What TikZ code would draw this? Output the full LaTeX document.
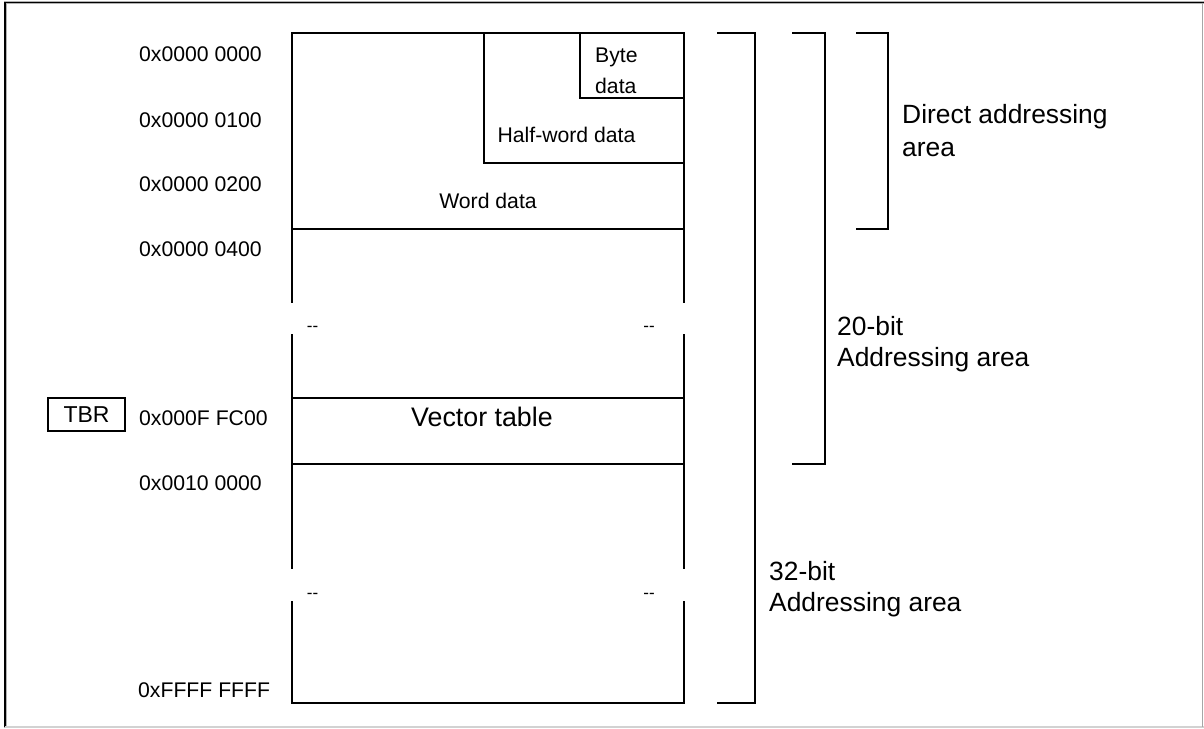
\documentclass[tikz,border=0pt]{standalone}
\usepackage{fontspec}
\setmainfont{Liberation Sans}
\begin{document}
\begin{tikzpicture}[x=1pt,y=-1pt,
  mline/.style={line width=1.8pt,line cap=rect},
  brk/.style={line width=1.8pt},
  small/.style={inner sep=0pt,font=\fontsize{21.2}{25}\selectfont},
  big/.style={inner sep=0pt,font=\fontsize{26.4}{31}\selectfont,align=left},
  addr/.style={small,anchor=west},
  dashlbl/.style={inner sep=0pt,font=\fontsize{17}{20}\selectfont}]
\useasboundingbox (0,0) rectangle (1204,728);
% frame
\draw[gray!60,line width=3pt] (5,728) -- (5,2.5) -- (1204,2.5);
\draw[black,line width=1.6pt] (5,727) -- (5,2.5) -- (1204,2.5);
\draw[gray!35,line width=1.5pt] (5,727) -- (1204,727);
\draw[gray!70,line width=1.2pt] (1202.8,2.5) -- (1202.8,727);
% memory column
\draw[mline] (292,302) -- (292,33) -- (684,33) -- (684,302);
\draw[mline] (292,335) -- (292,568);
\draw[mline] (684,335) -- (684,568);
\draw[mline] (292,602) -- (292,703) -- (684,703) -- (684,602);
\draw[mline] (292,229) -- (684,229);
\draw[mline] (292,398) -- (684,398);
\draw[mline] (292,464) -- (684,464);
\draw[mline] (484,33) -- (484,163) -- (684,163);
\draw[mline] (580,33) -- (580,98) -- (684,98);
% texts in column
\node[small,anchor=west,align=left,font=\fontsize{21.2}{31.5}\selectfont] (byte) at (595,71) {Byte\\data};
\node[small] (half) at (566.5,135) {Half-word data};
\node[small] (word) at (488,200.5) {Word data};
\node[inner sep=0pt,font=\fontsize{26.8}{31}\selectfont] (vec) at (482,416.5) {Vector table};
\node[dashlbl] (d1) at (312.5,329) {-{}-};
\node[dashlbl] (d2) at (649,329) {-{}-};
\node[dashlbl] (d3) at (312.5,596) {-{}-};
\node[dashlbl] (d4) at (649,596) {-{}-};
% addresses
\node[addr] (a0) at (139,54.5) {0x0000 0000};
\node[addr] (a1) at (139,120) {0x0000 0100};
\node[addr] (a2) at (139,184.5) {0x0000 0200};
\node[addr] (a3) at (139,249.5) {0x0000 0400};
\node[addr] (a4) at (139,418) {0x000F FC00};
\node[addr] (a5) at (139,483) {0x0010 0000};
\node[addr] (a6) at (138,690.5) {0xFFFF FFFF};
% TBR
\node[draw,line width=1.4pt,minimum width=77pt,minimum height=33pt,inner sep=0pt,
  font=\fontsize{23}{27}\selectfont] (tbr) at (86.5,414.5) {TBR};
% brackets
\draw[brk] (717,33) -- (755,33) -- (755,703) -- (717,703);
\draw[brk] (792,33) -- (825,33) -- (825,464) -- (792,464);
\draw[brk] (856,33) -- (888,33) -- (888,229) -- (856,229);
\node[big,anchor=west] (direct) at (902,131) {Direct addressing\\[2pt]area};
\node[big,anchor=west] (b20) at (837,344) {20-bit\\Addressing area};
\node[big,anchor=west] (b32) at (769,589) {32-bit\\Addressing area};
\end{tikzpicture}
\end{document}
